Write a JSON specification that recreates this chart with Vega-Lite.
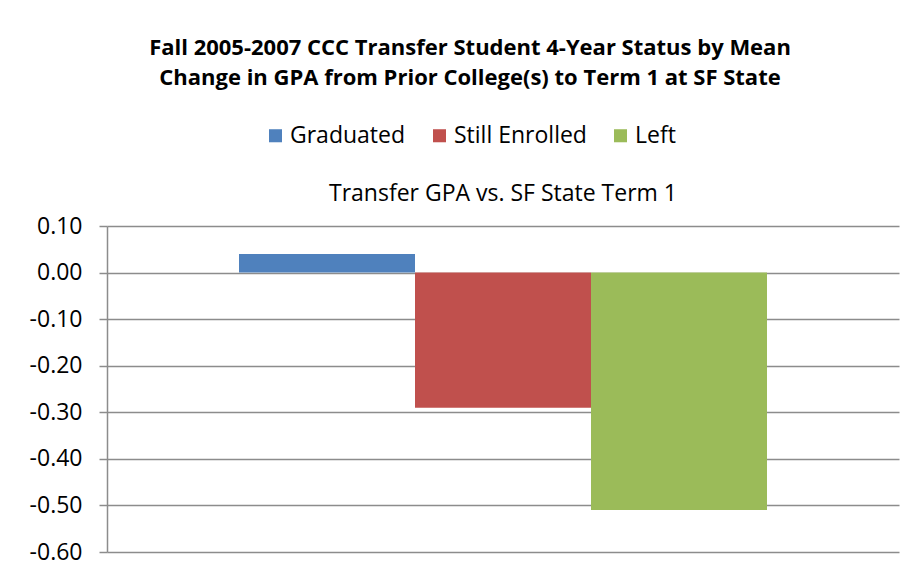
{
  "$schema": "https://vega.github.io/schema/vega-lite/v6.json",
  "width": 792,
  "height": 326,
  "autosize": {"type": "none"},
  "padding": {"left": 107, "top": 226, "right": 16, "bottom": 29},
  "background": "white",
  "title": {
    "text": ["Fall 2005-2007 CCC Transfer Student 4-Year Status by Mean", "Change in GPA from Prior College(s) to Term 1 at SF State"],
    "font": "Open Sans",
    "fontSize": 22,
    "fontWeight": "bold",
    "lineHeight": 30,
    "color": "#000000",
    "anchor": "middle",
    "dx": -33,
    "offset": 34
  },
  "data": {
    "values": [
      {"category": "Transfer GPA vs. SF State Term 1", "status": "Graduated", "value": 0.04},
      {"category": "Transfer GPA vs. SF State Term 1", "status": "Still Enrolled", "value": -0.29},
      {"category": "Transfer GPA vs. SF State Term 1", "status": "Left", "value": -0.51}
    ]
  },
  "mark": {"type": "bar"},
  "encoding": {
    "x": {
      "field": "category",
      "type": "nominal",
      "scale": {"paddingOuter": 0.25, "paddingInner": 0},
      "axis": {
        "orient": "top",
        "title": null,
        "domain": false,
        "ticks": false,
        "labelAngle": 0,
        "labelLimit": 0,
        "labelFont": "Open Sans",
        "labelFontSize": 23,
        "labelColor": "#000000",
        "labelPadding": 21
      }
    },
    "xOffset": {
      "field": "status",
      "type": "nominal",
      "sort": ["Graduated", "Still Enrolled", "Left"],
      "scale": {"paddingInner": 0, "paddingOuter": 0}
    },
    "y": {
      "field": "value",
      "type": "quantitative",
      "scale": {"domain": [-0.6, 0.1], "nice": false, "zero": false},
      "axis": {
        "title": null,
        "values": [-0.6, -0.5, -0.4, -0.3, -0.2, -0.1, 0, 0.1],
        "labelExpr": "replace(format(datum.value, '.2f'), '\u2212', '-')",
        "labelFont": "Open Sans",
        "labelFontSize": 23,
        "labelColor": "#000000",
        "labelPadding": 17,
        "tickSize": 8,
        "tickColor": "#8c8c8c",
        "tickWidth": 1.5,
        "domainColor": "#8c8c8c",
        "domainWidth": 1.5,
        "grid": true,
        "gridColor": "#8c8c8c",
        "gridWidth": 1.5
      }
    },
    "color": {
      "field": "status",
      "type": "nominal",
      "sort": ["Graduated", "Still Enrolled", "Left"],
      "scale": {"domain": ["Graduated", "Still Enrolled", "Left"], "range": ["#4F81BD", "#C0504D", "#9BBB59"]},
      "legend": {
        "title": null,
        "orient": "none",
        "direction": "horizontal",
        "legendX": 157,
        "legendY": -102,
        "symbolType": "square",
        "symbolSize": 170,
        "symbolStrokeWidth": 0,
        "labelFont": "Open Sans",
        "labelFontSize": 23,
        "labelColor": "#000000",
        "labelOffset": 3,
        "columnPadding": 22
      }
    }
  },
  "config": {
    "view": {"stroke": null}
  }
}
